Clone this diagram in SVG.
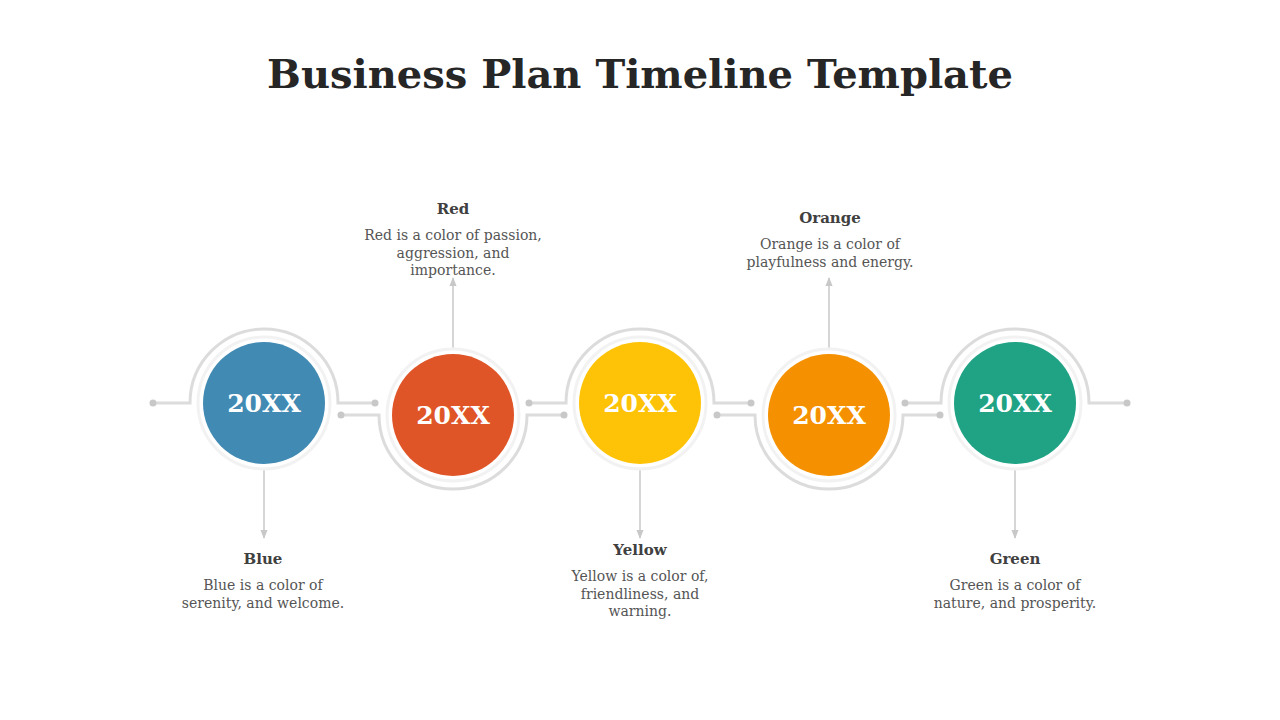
<svg xmlns="http://www.w3.org/2000/svg" width="1280" height="720" viewBox="0 0 1280 720">
<defs>
<style>
.t{font-family:"DejaVu Serif",serif;font-weight:bold;font-size:40px;fill:#262626}
.yr{font-family:"DejaVu Serif",serif;font-weight:bold;font-size:25px;fill:#fff;text-anchor:middle}
.h{font-family:"DejaVu Serif",serif;font-weight:bold;font-size:15px;fill:#404040;text-anchor:middle}
.b{font-family:"DejaVu Serif",serif;font-size:14px;fill:#555;text-anchor:middle}
.arc{fill:none;stroke:#dcdcdc;stroke-width:3}
.halo{fill:#fff;stroke:#f2f2f2;stroke-width:3}
.ar{stroke:#c8c8c8;stroke-width:1.5;marker-end:url(#m)}
.dot{fill:#c8c8c8}
</style>
<marker id="m" viewBox="0 0 10 10" refX="9" refY="5" markerWidth="6" markerHeight="6" orient="auto"><path d="M0,1L10,5L0,9z" fill="#c8c8c8"/></marker>
</defs>
<text class="t" x="640" y="88" text-anchor="middle">Business Plan Timeline Template</text>
<g id="connectors">
<path class="arc" d="M153,403H190A74,74 0 0 1 338,403H375"/>
<path class="arc" d="M341,415H379A74,74 0 0 0 527,415H564"/>
<path class="arc" d="M529,403H566A74,74 0 0 1 714,403H751"/>
<path class="arc" d="M717,415H755A74,74 0 0 0 903,415H940"/>
<path class="arc" d="M905,403H941A74,74 0 0 1 1089,403H1127"/>
<g class="dot">
<circle cx="153" cy="403" r="3.5"/><circle cx="375" cy="403" r="3.5"/>
<circle cx="341" cy="415" r="3.5"/><circle cx="564" cy="415" r="3.5"/>
<circle cx="529" cy="403" r="3.5"/><circle cx="751" cy="403" r="3.5"/>
<circle cx="717" cy="415" r="3.5"/><circle cx="940" cy="415" r="3.5"/>
<circle cx="905" cy="403" r="3.5"/><circle cx="1127" cy="403" r="3.5"/>
</g>
<line class="ar" x1="264" y1="464" x2="264" y2="538"/>
<line class="ar" x1="453" y1="354" x2="453" y2="278"/>
<line class="ar" x1="640" y1="464" x2="640" y2="538"/>
<line class="ar" x1="829" y1="354" x2="829" y2="278"/>
<line class="ar" x1="1015" y1="464" x2="1015" y2="538"/>
</g>
<g id="blue"><circle class="halo" cx="264" cy="403" r="66"/><circle cx="264" cy="403" r="61" fill="#418ab3"/><text class="yr" x="264" y="412">20XX</text>
<text class="h" x="263" y="564">Blue</text><text class="b" x="263" y="590">Blue is a color of</text><text class="b" x="263" y="608">serenity, and welcome.</text></g>
<g id="red"><circle class="halo" cx="453" cy="415" r="66"/><circle cx="453" cy="415" r="61" fill="#e05527"/><text class="yr" x="453" y="424">20XX</text>
<text class="h" x="453" y="214">Red</text><text class="b" x="453" y="240">Red is a color of passion,</text><text class="b" x="453" y="258">aggression, and</text><text class="b" x="453" y="275">importance.</text></g>
<g id="yellow"><circle class="halo" cx="640" cy="403" r="66"/><circle cx="640" cy="403" r="61" fill="#fec307"/><text class="yr" x="640" y="412">20XX</text>
<text class="h" x="640" y="555">Yellow</text><text class="b" x="640" y="581">Yellow is a color of,</text><text class="b" x="640" y="599">friendliness, and</text><text class="b" x="640" y="616">warning.</text></g>
<g id="orange"><circle class="halo" cx="829" cy="415" r="66"/><circle cx="829" cy="415" r="61" fill="#f59100"/><text class="yr" x="829" y="424">20XX</text>
<text class="h" x="830" y="223">Orange</text><text class="b" x="830" y="249">Orange is a color of</text><text class="b" x="830" y="267">playfulness and energy.</text></g>
<g id="green"><circle class="halo" cx="1015" cy="403" r="66"/><circle cx="1015" cy="403" r="61" fill="#1fa384"/><text class="yr" x="1015" y="412">20XX</text>
<text class="h" x="1015" y="564">Green</text><text class="b" x="1015" y="590">Green is a color of</text><text class="b" x="1015" y="608">nature, and prosperity.</text></g>
</svg>
